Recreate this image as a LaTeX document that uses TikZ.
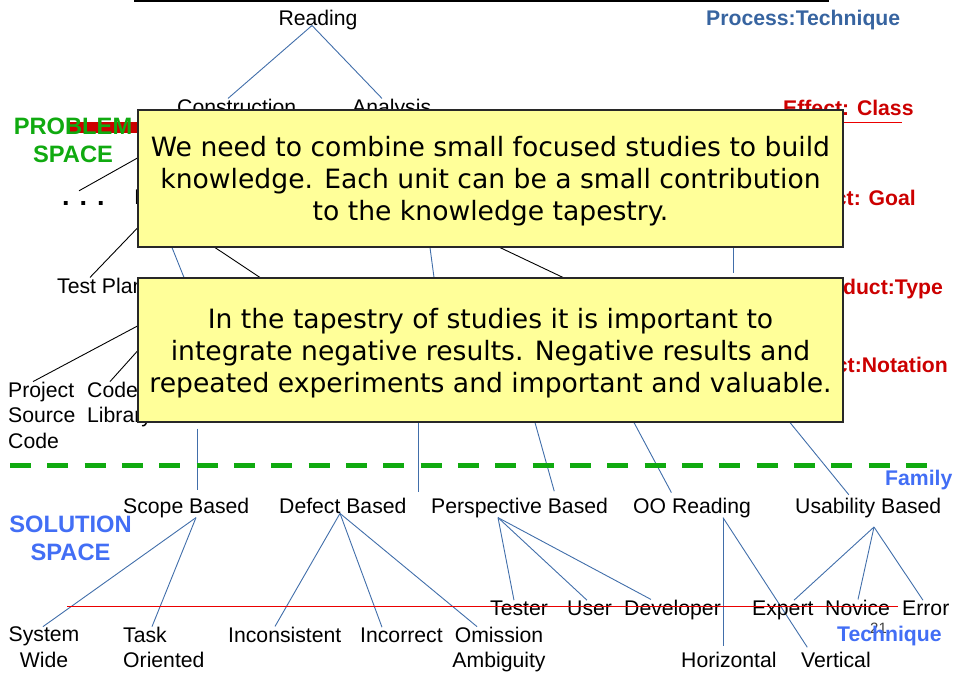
\documentclass[tikz,border=0pt]{standalone}
\usepackage{fontspec}
\setmainfont{Liberation Sans}
\newfontfamily\callfont{DejaVu Sans}
\pgfdeclarelayer{background}
\pgfsetlayers{background,main}
\definecolor{linkblue}{RGB}{65,110,170}
\definecolor{proctag}{RGB}{55,100,160}
\definecolor{soltag}{RGB}{66,110,245}
\definecolor{probgreen}{RGB}{16,170,16}
\definecolor{tagred}{RGB}{204,0,0}
\definecolor{linered}{RGB}{235,0,0}
\definecolor{noteyellow}{RGB}{255,255,153}
\definecolor{noteedge}{RGB}{40,40,40}
\begin{document}
\begin{tikzpicture}[x=1pt,y=-1pt,
  lbl/.style={font=\fontsize{21.2}{25.5}\selectfont, inner sep=0pt},
  tag/.style={font=\bfseries\fontsize{21.2}{25.5}\selectfont, inner sep=0pt},
  spacelbl/.style={font=\bfseries\fontsize{23.7}{28}\selectfont, align=center, inner sep=0pt},
  note/.style={draw=noteedge, fill=noteyellow, line width=1.1pt, inner sep=0pt},
  notetext/.style={font=\callfont\fontsize{26.6}{32}\selectfont, align=center, inner sep=0pt},
  conn/.style={draw=linkblue, line width=0.9pt},
  blk/.style={draw=black, line width=0.9pt}]
\useasboundingbox (0,0) rectangle (956,673);

% top rule
\coordinate (topL) at (134,1);
\coordinate (topR) at (829,1);
\draw[line width=2.2pt] (topL) -- (topR);

% upper (problem space) labels
\node[lbl, anchor=base] (rd) at (318,25.5) {Reading};
\node[tag, text=proctag, anchor=base west] (pt) at (706,25) {Process:Technique};
\node[lbl, anchor=base west] (con) at (177,114) {Construction};
\node[lbl, anchor=base west] (ana) at (352,114) {Analysis};
\node[tag, text=tagred, anchor=base west] (ec) at (783,115) {Effect: Class};
\coordinate (ecL) at (783,122);
\coordinate (ecR) at (902,122);
\draw[linered, line width=1pt] (ecL) -- (ecR);

\fill[tagred] (67,122) rectangle (200,133);
\node[spacelbl, text=probgreen, anchor=north] (prob) at (73,118) {PROBLEM\\SPACE};

\node[font=\bfseries\fontsize{27}{30}\selectfont, inner sep=0pt, text height=14pt, anchor=base west] (dots) at (62,205) {. . .};
\node[lbl, anchor=base west] (hid) at (134,204) {I};
\node[tag, text=tagred, anchor=base east] (eg) at (916,205) {Effect: Goal};
\node[lbl, anchor=base west] (tp) at (57,293) {Test Plan};
\node[tag, text=tagred, anchor=base east] (ptype) at (943,294) {Product:Type};
\node[tag, text=tagred, anchor=base east] (pnot) at (948,372) {Product:Notation};
\node[lbl, align=left, anchor=north west] (prj) at (8,381.6) {Project\\Source\\Code};
\node[lbl, align=left, anchor=north west] (cl) at (87,381.6) {Code\\Library};

% separator
\draw[probgreen, line width=5pt, dash pattern=on 21pt off 16.33pt] (10,465) -- (931,465);

% solution space labels
\node[tag, text=soltag, anchor=base west] (fam) at (885,485) {Family};
\node[spacelbl, text=soltag, anchor=north] (sol) at (70.5,516) {SOLUTION\\SPACE};

\node[lbl, anchor=base west] (sb) at (123,513) {Scope Based};
\node[lbl, anchor=base west] (db) at (279,513) {Defect Based};
\node[lbl, anchor=base west] (pb) at (431,513) {Perspective Based};
\node[lbl, anchor=base west] (oo) at (633,513) {OO Reading};
\node[lbl, anchor=base west] (ub) at (795,513) {Usability Based};

\node[lbl, anchor=base west] (te) at (490,615) {Tester};
\node[lbl, anchor=base west] (us) at (567,615) {User};
\node[lbl, anchor=base west] (de) at (624,615) {Developer};
\node[lbl, anchor=base west] (ex) at (752,615) {Expert};
\node[lbl, anchor=base west] (no) at (825,615) {Novice};
\node[lbl, anchor=base west] (er) at (902,615) {Error};

\node[lbl, align=center, anchor=north] (sw) at (44,626.6) {System\\Wide};
\node[lbl, align=left, anchor=north west] (to) at (123,626.6) {Task\\Oriented};
\node[lbl, anchor=base west] (inc) at (228,642) {Inconsistent};
\node[lbl, anchor=base west] (icr) at (360,642) {Incorrect};
\node[lbl, align=center, anchor=north] (om) at (499,626.6) {Omission\\Ambiguity};
\node[lbl, anchor=base west] (ho) at (681,667) {Horizontal};
\node[lbl, anchor=base west] (ve) at (801,667) {Vertical};

\node[font=\fontsize{15}{18}\selectfont, text=black!75, inner sep=0pt, anchor=base west] (pg) at (870,633) {21};
\node[tag, text=soltag, anchor=base west] (tq) at (837,641) {Technique};

\coordinate (rlL) at (67,606);
\coordinate (rlR) at (898,606);
\draw[linered, line width=1pt] (rlL) -- (rlR);

% callout notes
\node[note, minimum width=705pt, minimum height=137pt] (b1) at (490.5,178.5) {};
\node[notetext] (t1) at ([yshift=-3pt]b1.center) {We need to combine small focused studies to build\\knowledge. Each unit can be a small contribution\\to the knowledge tapestry.};
\node[note, minimum width=705pt, minimum height=144pt] (b2) at (490.5,350) {};
\node[notetext] (t2) at ([yshift=-3pt]b2.center) {In the tapestry of studies it is important to\\integrate negative results. Negative results and\\repeated experiments and important and valuable.};

\coordinate (ubroot) at (874,527);

\begin{pgfonlayer}{background}
\draw[conn] (312,0 |- rd.base) -- (228,0 |- con.north);
\draw[conn] (312,0 |- rd.base) -- (382,0 |- ana.north);
\draw[blk] (79,0 |- dots.north) -- (b1.west |- 0,158);
\draw[blk] (90,0 |- tp.north) -- (b1.west |- 0,228);
\draw[blk] (33,0 |- prj.north) -- (b2.west |- 0,326);
\draw[blk] (110,0 |- cl.north) -- (b2.west |- 0,351);
\draw[conn] (172,0 |- b1.south) -- (184,0 |- b2.north);
\draw[blk] (215,0 |- b1.south) -- (260,0 |- b2.north);
\draw[conn] (430,0 |- b1.south) -- (434,0 |- b2.north);
\draw[blk] (500,0 |- b1.south) -- (563,0 |- b2.north);
\draw[conn] (733,0 |- b1.south) -- ++(0,25);
\draw[conn, shorten <=6pt, shorten >=7pt] (197,0 |- b2.south) -- (197,0 |- sb.north);
\draw[conn, shorten >=5.5pt] (418,0 |- b2.south) -- (418,0 |- pb.north);
\draw[conn, shorten >=6.5pt] (535,0 |- b2.south) -- (556,0 |- pb.north);
\draw[conn, shorten >=5.5pt] (634,0 |- b2.south) -- (674,0 |- oo.north);
\draw[conn, shorten >=3.5pt] (790,0 |- b2.south) -- (851,0 |- ub.north);

\draw[conn] (196,0 |- sb.south) -- (43,0 |- sw.north);
\draw[conn] (196,0 |- sb.south) -- (152,0 |- to.north);
\draw[conn] (340,0 |- db.south) -- (275,0 |- inc.north);
\draw[conn] (340,0 |- db.south) -- (382,0 |- icr.north);
\draw[conn] (340,0 |- db.south) -- (477,0 |- om.north);
\draw[conn] (498,0 |- pb.south) -- (514,0 |- te.north);
\draw[conn] (498,0 |- pb.south) -- (587,0 |- us.north);
\draw[conn] (498,0 |- pb.south) -- (651,0 |- de.north);
\draw[conn, shorten >=5pt] (723,0 |- oo.south) -- (723,0 |- ho.north);
\draw[conn, shorten >=5pt] (723,0 |- oo.south) -- (810,0 |- ve.north);
\draw[conn] (ubroot) -- (794,0 |- ex.north);
\draw[conn] (ubroot) -- (858,0 |- no.north);
\draw[conn] (ubroot) -- (923,0 |- er.north);
\end{pgfonlayer}
\end{tikzpicture}
\end{document}
